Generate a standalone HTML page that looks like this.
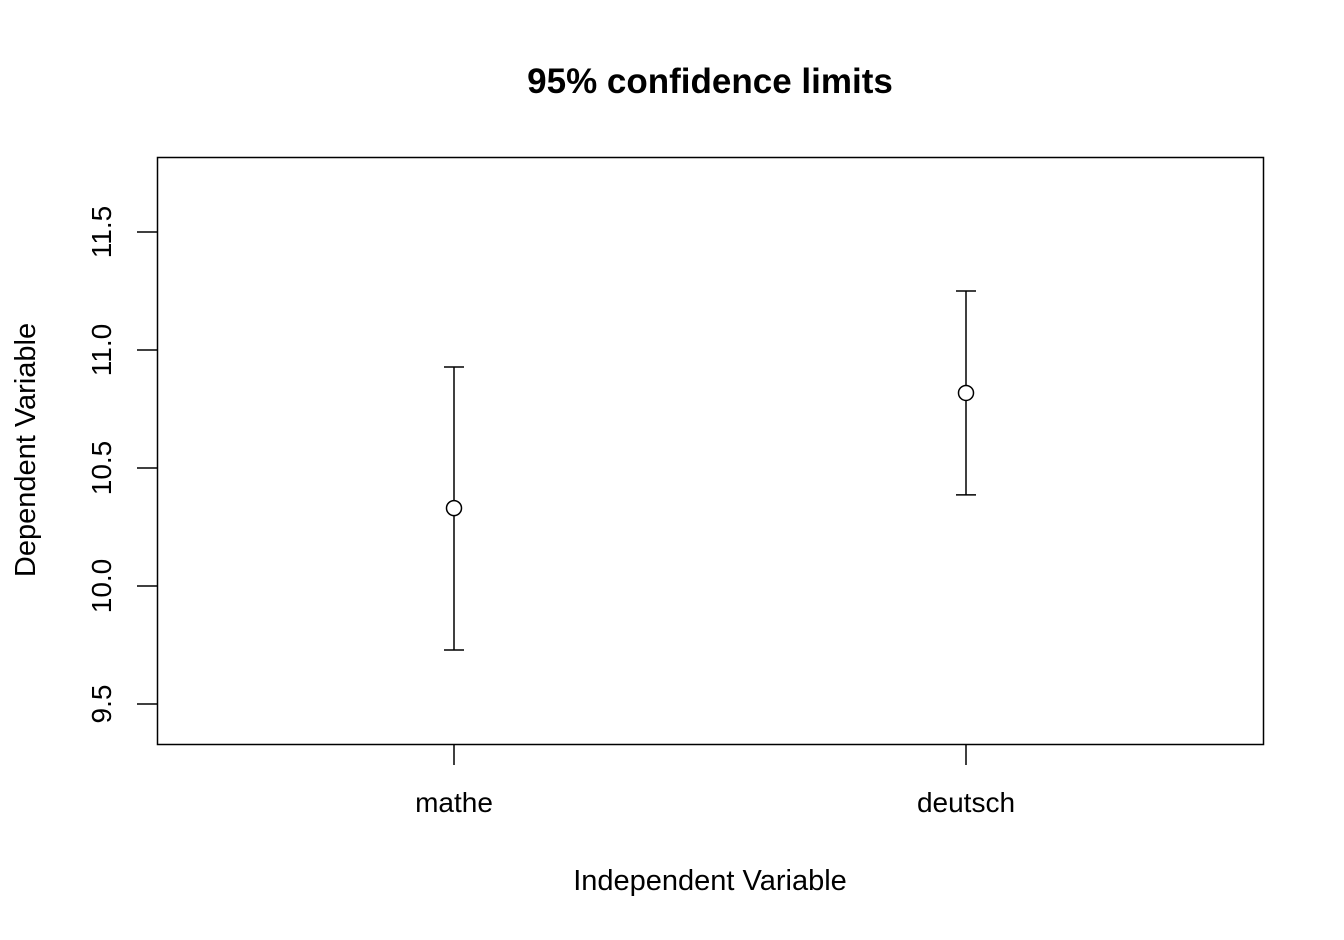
<!DOCTYPE html>
<html><head><meta charset="utf-8"><style>
html,body{margin:0;padding:0;background:#fff;}
svg{display:block;font-family:"Liberation Sans",Arial,sans-serif;}
</style></head><body>
<svg id="chart" width="1344" height="940">
<text x="710" y="93" text-anchor="middle" font-size="35" font-weight="bold">95% confidence limits</text>
<rect x="157.5" y="157.5" width="1106" height="587" fill="none" stroke="#000" stroke-width="1.5"/>
<text x="710" y="890" text-anchor="middle" font-size="29">Independent Variable</text>
<text transform="translate(35,450) rotate(-90)" text-anchor="middle" font-size="29">Dependent Variable</text>
<g id="axes"></g><g id="marks"></g>
</svg>
<script>
const categories=["mathe","deutsch"];
const means=[10.33,10.818];
const lowers=[9.729,10.386];
const uppers=[10.928,11.25];
const yTicks=[9.5,10.0,10.5,11.0,11.5];
const yTickLabels=["9.5","10.0","10.5","11.0","11.5"];
const NS="http://www.w3.org/2000/svg";
function y(v){return 586-(v-10)*236;}
function x(i){return 454+i*512;}
function mk(t,a,p){const e=document.createElementNS(NS,t);for(const k in a)e.setAttribute(k,a[k]);p.appendChild(e);return e;}
const axes=document.getElementById('axes'),marks=document.getElementById('marks');
yTicks.forEach((v,i)=>{
 const l=mk('line',{x1:137,x2:157,y1:y(v),y2:y(v),stroke:'#000','stroke-width':1.5},axes);
 
 
 const t=mk('text',{transform:`translate(111,${y(v)}) rotate(-90)`,'text-anchor':'middle','font-size':28},axes);
 t.textContent=yTickLabels[i];
 
 
});
categories.forEach((c,i)=>{
 const l=mk('line',{x1:x(i),x2:x(i),y1:744,y2:765,stroke:'#000','stroke-width':1.5},axes);
 
 
 const t=mk('text',{x:x(i),y:812,'text-anchor':'middle','font-size':28},axes);
 t.textContent=c;
 
 
 const g=mk('g',{stroke:'#000','stroke-width':1.5,fill:'none'},marks);
 
 
 mk('line',{x1:x(i),x2:x(i),y1:y(lowers[i]),y2:y(uppers[i])},g);
 mk('line',{x1:x(i)-10,x2:x(i)+10,y1:y(lowers[i]),y2:y(lowers[i])},g);
 mk('line',{x1:x(i)-10,x2:x(i)+10,y1:y(uppers[i]),y2:y(uppers[i])},g);
 const p=mk('circle',{cx:x(i),cy:y(means[i]),r:7.5,fill:'#fff',stroke:'#000','stroke-width':1.5},marks);
 
 
});
</script>
</body></html>
